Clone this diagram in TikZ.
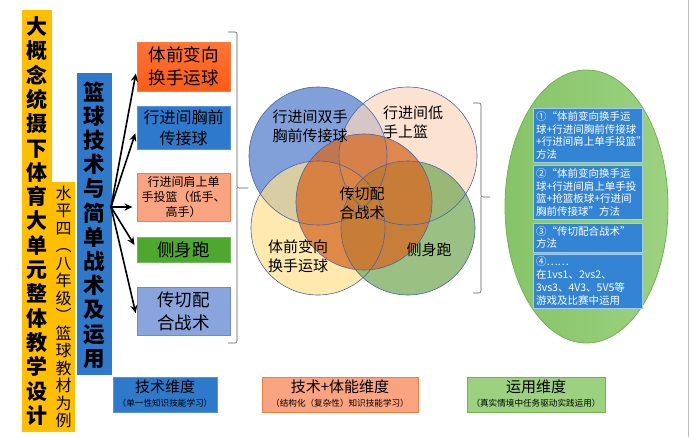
\documentclass[tikz,border=0pt]{standalone}
\usepackage{fontspec}
\setmainfont{Noto Sans CJK SC}
\usetikzlibrary{arrows.meta}

\definecolor{titleyellow}{RGB}{255,190,0}
\definecolor{techblue}{RGB}{46,121,204}
\definecolor{redorange}{RGB}{252,92,20}
\definecolor{salmon}{RGB}{250,163,128}
\definecolor{salmonline}{RGB}{244,125,64}
\definecolor{grassgreen}{RGB}{78,167,46}
\definecolor{lavblue}{RGB}{138,164,222}
\definecolor{lavline}{RGB}{104,139,214}
\definecolor{ovalgreen}{RGB}{134,196,104}
\definecolor{ovalline}{RGB}{112,180,80}
\definecolor{lightgreen}{RGB}{156,209,128}
\definecolor{vennline}{RGB}{68,100,170}

\tikzset{
  vbox/.style={draw=none, inner sep=0pt, align=center, font=\bfseries},
  skill/.style={draw, line width=0.8pt, minimum width=93, inner sep=1pt, align=center},
  method/.style={draw={rgb,255:red,160;green,205;blue,240}, line width=0.8pt, fill={rgb,255:red,52;green,132;blue,214},
    text=white, minimum width=109, text width=103, inner sep=3pt, align=left,
    font=\fontsize{10.5}{12.8}\selectfont},
  dimbox/.style={draw, line width=0.8pt, inner sep=0pt, align=center},
  venntext/.style={inner sep=0.75pt, align=left, font=\fontsize{15}{19}\selectfont},
  brace/.style={draw={rgb,255:red,90;green,90;blue,90}, line width=0.6pt, rounded corners=2pt}
}

\begin{document}
\begin{tikzpicture}[x=1pt,y=1pt,yscale=-1,xscale=1]
\useasboundingbox (0,0) rectangle (690,437);

%Straight Lines right border
\draw [color={rgb,255:red,190;green,190;blue,190}, line width=0.8pt] (688,0) -- (688,437);

%Shape: Rectangle title
\fill [titleyellow] (22,10) rectangle (52,432);
\fill [titleyellow] (52,182) rectangle (75,432);
\fill [techblue] (77,73) rectangle (112,375);

% Text Node
\node [vbox, font=\bfseries\fontsize{21}{24.3}\selectfont] (title) at (37,221)
  {大\\概\\念\\统\\摄\\下\\体\\育\\大\\单\\元\\整\\体\\教\\学\\设\\计};
% Text Node
\node [vbox, font=\fontsize{16}{17.5}\selectfont] (grade) at (63.5,307)
  {水\\平\\四\\︵\\八\\年\\级\\︶\\篮\\球\\教\\材\\为\\例};
% Text Node
\node [vbox, font=\bfseries\fontsize{21.5}{24.2}\selectfont] (topic) at (94.5,225)
  {篮\\球\\技\\术\\与\\简\\单\\战\\术\\及\\运\\用};

%Shape: Rectangle skills
\node [skill, draw=salmonline, top color=redorange!85!white, bottom color=redorange, minimum height=49,
  font=\fontsize{17.5}{23}\selectfont] (dribble) at (183.5,66.5) {体前变向\\换手运球};
\node [skill, draw=techblue!80!white, fill=techblue, minimum height=43,
  font=\fontsize{16}{21}\selectfont] (pass) at (183.5,127.5) {行进间胸前\\传接球};
\node [skill, draw=salmonline, fill=salmon, minimum height=48,
  font=\fontsize{12}{15}\selectfont] (shoot) at (183.5,197) {行进间肩上单\\手投篮（低手、\\高手）};
\node [skill, draw=grassgreen!80!white, fill=grassgreen, minimum height=25,
  font=\fontsize{17.5}{21}\selectfont] (run) at (183.5,249.5) {侧身跑};
\node [skill, draw=lavline, fill=lavblue, minimum height=48,
  font=\fontsize{17.5}{23}\selectfont] (tactic) at (183.5,311) {传切配\\合战术};

%Straight Lines arrows
\coordinate (hub) at (111,207);
\foreach \b/\dy in {dribble/3, pass/2, shoot/10, run/-1, tactic/6}
  \draw [line width=1.6pt, -{Stealth[length=8pt,width=7pt]}, shorten >=4pt] (hub) -- ([yshift=\dy pt]\b.west);

%Brace left
\draw [brace] (228,32) -- (237,32) -- (237,188) -- (248,188);
\draw [brace] (237,188) -- (237,343) -- (228,343);

%Shape: Circles venn
\fill [fill={rgb,255:red,80;green,124;blue,204}, fill opacity=0.72] (318,156) circle (69);
\fill [fill={rgb,255:red,251;green,215;blue,190}, fill opacity=0.7] (408,156) circle (69);
\fill [fill={rgb,255:red,255;green,224;blue,140}, fill opacity=0.7] (318,228) circle (67);
\fill [fill={rgb,255:red,112;green,165;blue,80}, fill opacity=0.7] (408,228) circle (67);
\fill [fill={rgb,255:red,215;green,105;blue,35}, fill opacity=0.75] (364,202) circle (68);
\foreach \c/\r in {{(318,156)}/69, {(408,156)}/69, {(318,228)}/67, {(408,228)}/67, {(364,202)}/68}
  \draw [vennline, line width=0.6pt] \c circle (\r);

% Text Node
\node [venntext] (vpass) at (310,126) {行进间双手\\胸前传接球};
\node [venntext] (vlay) at (413,122) {行进间低\\手上篮};
\node [venntext] (vtactic) at (362,203) {传切配\\合战术};
\node [venntext] (vdribble) at (298,256) {体前变向\\换手运球};
\node [venntext] (vrun) at (429,250) {侧身跑};

%Brace right
\draw [brace] (473,103) -- (481,103) -- (481,197) -- (490,197);
\draw [brace] (481,197) -- (481,293) -- (473,293);

%Shape: Ellipse
\draw [ovalline, line width=0.8pt, left color=ovalgreen, right color=lightgreen] (586.5,206.5) ellipse (81.5 and 136.5);

% Text Node methods
\node [method, minimum height=53] (m1) at (587.5,135.5)
  {①“体前变向换手运\\球+行进间胸前传接球\\+行进间肩上单手投篮”\\方法};
\node [method, minimum height=53] (m2) at (587.5,192.5)
  {②“体前变向换手运\\球+行进间肩上单手投\\篮+抢篮板球+行进间\\胸前传接球”方法};
\node [method, minimum height=29] (m3) at (587.5,237.5)
  {③“传切配合战术”\\方法};
\node [method, minimum height=54] (m4) at (587.5,281)
  {④……\\在1vs1、2vs2、\\3vs3、4V3、5V5等\\游戏及比赛中运用};

% Text Node dimensions
\node [dimbox, draw=techblue!80!white, fill=techblue, minimum width=104, minimum height=35] (dim1) at (165,394.5) {};
\node [dimbox, draw=salmonline, fill=salmon, minimum width=156, minimum height=35] (dim2) at (340,394.5) {};
\node [dimbox, draw=ovalline, fill=lightgreen, minimum width=138, minimum height=35] (dim3) at (536,394.5) {};
\foreach \d/\t/\s in {dim1/技术维度/（单一性知识技能学习）,
                      dim2/技术+体能维度/（结构化（复杂性）知识技能学习）,
                      dim3/运用维度/（真实情境中任务驱动实践运用）} {
  \node [font=\fontsize{15}{16}\selectfont, inner sep=0pt] at ([yshift=-8pt]\d.center) {\t};
  \node [font=\fontsize{8.6}{10}\selectfont, inner sep=0pt] at ([yshift=8.5pt]\d.center) {\s};
}

\end{tikzpicture}
\end{document}
